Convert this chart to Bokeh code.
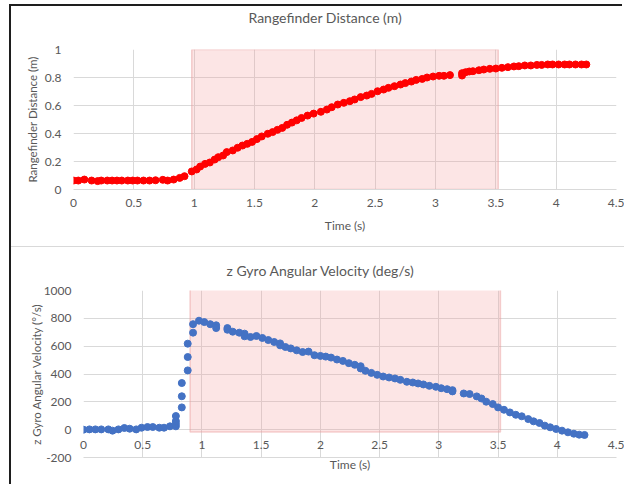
from bokeh.plotting import figure
from bokeh.models import (FixedTicker, NumeralTickFormatter, BoxAnnotation,
                          ColumnDataSource, Range1d, Title)
from bokeh.layouts import column
from bokeh.embed import file_html
from bokeh.resources import INLINE

# ---------------- data ----------------
range_time = [0.00, 0.04, 0.09, 0.15, 0.20, 0.23, 0.28, 0.32, 0.36, 0.40, 0.45, 0.49,
              0.53, 0.58, 0.63, 0.68, 0.74, 0.78, 0.83, 0.88, 0.92, 0.98, 1.02, 1.05,
              1.09, 1.13, 1.17, 1.20, 1.24, 1.27, 1.32, 1.36, 1.40, 1.44, 1.48, 1.52,
              1.56, 1.61, 1.65, 1.69, 1.73, 1.77, 1.81, 1.85, 1.89, 1.94, 1.99, 2.05,
              2.10, 2.14, 2.19, 2.24, 2.29, 2.33, 2.38, 2.43, 2.47, 2.52, 2.57, 2.61,
              2.66, 2.71, 2.75, 2.80, 2.84, 2.89, 2.93, 2.98, 3.03, 3.07, 3.12, 3.22,
              3.22, 3.25, 3.28, 3.31, 3.36, 3.40, 3.45, 3.50, 3.55, 3.60, 3.65, 3.69,
              3.74, 3.79, 3.84, 3.88, 3.93, 3.97, 4.02, 4.07, 4.11, 4.16, 4.21, 4.25]
range_dist = [0.064, 0.064, 0.071, 0.064, 0.060, 0.064, 0.064, 0.064, 0.064, 0.064, 0.064, 0.064,
              0.064, 0.064, 0.064, 0.066, 0.069, 0.064, 0.071, 0.083, 0.095, 0.129, 0.143, 0.164,
              0.183, 0.193, 0.214, 0.231, 0.243, 0.267, 0.279, 0.298, 0.314, 0.326, 0.340, 0.360,
              0.379, 0.398, 0.410, 0.426, 0.440, 0.462, 0.478, 0.494, 0.511, 0.528, 0.542, 0.555,
              0.571, 0.588, 0.607, 0.619, 0.631, 0.643, 0.660, 0.671, 0.683, 0.702, 0.714, 0.726,
              0.738, 0.750, 0.760, 0.771, 0.783, 0.790, 0.800, 0.807, 0.812, 0.812, 0.817, 0.814,
              0.831, 0.838, 0.843, 0.845, 0.852, 0.857, 0.862, 0.864, 0.869, 0.874, 0.879, 0.881,
              0.886, 0.886, 0.890, 0.890, 0.893, 0.893, 0.893, 0.893, 0.893, 0.893, 0.893, 0.893]

gyro_time = [0.00, 0.05, 0.10, 0.15, 0.21, 0.245, 0.295, 0.345, 0.39, 0.445, 0.49, 0.54,
             0.585, 0.64, 0.68, 0.73, 0.78, 0.78, 0.78, 0.78, 0.83, 0.83, 0.83, 0.88,
             0.88, 0.88, 0.925, 0.925, 0.975, 1.02, 1.07, 1.12, 1.12, 1.215, 1.215, 1.26,
             1.315, 1.36, 1.36, 1.41, 1.46, 1.51, 1.56, 1.61, 1.66, 1.66, 1.705, 1.75,
             1.80, 1.85, 1.90, 1.95, 2.00, 2.045, 2.09, 2.14, 2.19, 2.24, 2.29, 2.34,
             2.34, 2.38, 2.43, 2.48, 2.53, 2.58, 2.63, 2.675, 2.73, 2.78, 2.825, 2.87,
             2.92, 2.975, 3.02, 3.07, 3.115, 3.115, 3.21, 3.26, 3.32, 3.36, 3.40, 3.455,
             3.50, 3.55, 3.60, 3.65, 3.70, 3.755, 3.80, 3.85, 3.895, 3.94, 3.99, 4.04,
             4.09, 4.14, 4.185, 4.23]
gyro_vel = [0, 2, 2, 2, 2, -7, 2, 12, 7, 2, 14, 19,
            19, 14, 14, 24, 24, 43, 62, 98, 160, 240, 335, 426,
            522, 618, 697, 758, 783, 773, 758, 750, 730, 730, 718, 704,
            697, 690, 671, 666, 673, 659, 644, 630, 620, 606, 594, 584,
            570, 558, 561, 535, 530, 525, 518, 504, 494, 478, 466, 456,
            440, 423, 408, 394, 382, 375, 368, 358, 344, 339, 332, 325,
            315, 308, 298, 291, 284, 275, 260, 256, 239, 224, 201, 184,
            160, 143, 124, 107, 96, 76, 60, 48, 29, 17, 5, -7,
            -19, -29, -36, -38]

time_ticks = [0, 0.5, 1, 1.5, 2, 2.5, 3, 3.5, 4, 4.5]
dist_ticks = [0, 0.2, 0.4, 0.6, 0.8, 1]
vel_ticks = [-200, 0, 200, 400, 600, 800, 1000]

range_window = (0.98, 3.52)
gyro_window = (0.90, 3.52)

# ---------------- style ----------------
FONT = "Lato"
TXT = "#595959"
GRID = "#d9d9d9"
SHADE = "#f4a0a0"
W = 613


def make_title(text, offset, standoff):
    return Title(text=text, align="left", offset=offset, standoff=standoff,
                 text_font=FONT, text_font_size="14px", text_font_style="normal",
                 text_color=TXT)


def base_style(p):
    p.outline_line_color = None
    p.background_fill_color = "white"
    p.border_fill_color = "white"
    try:
        p.frame_align = False
    except Exception:
        pass
    for g in (p.xgrid, p.ygrid):
        g.grid_line_color = GRID
        g.grid_line_width = 1
    p.xgrid.ticker = FixedTicker(ticks=time_ticks)
    for ax in p.yaxis:
        ax.axis_line_color = None
        ax.major_tick_line_color = None
        ax.minor_tick_line_color = None
        ax.major_tick_out = 0
        ax.major_tick_in = 0
        ax.major_label_standoff = 12
        ax.major_label_text_font = FONT
        ax.major_label_text_font_size = "12px"
        ax.major_label_text_color = TXT
        ax.axis_label_text_font = FONT
        ax.axis_label_text_font_size = "11.5px"
        ax.axis_label_text_font_style = "normal"
        ax.axis_label_text_color = TXT
    for ax in p.xaxis:
        ax.ticker = FixedTicker(ticks=time_ticks)
        ax.formatter = NumeralTickFormatter(format="0.[0]")
        ax.axis_line_color = GRID
        ax.major_tick_line_color = None
        ax.minor_tick_line_color = None
        ax.major_tick_out = 0
        ax.major_tick_in = 0
        ax.major_label_text_font = FONT
        ax.major_label_text_font_size = "12px"
        ax.major_label_text_color = TXT
        ax.axis_label = "Time (s)"
        ax.axis_label_text_font = FONT
        ax.axis_label_text_font_size = "12px"
        ax.axis_label_text_font_style = "normal"
        ax.axis_label_text_color = TXT


# ---------------- top chart ----------------
p1 = figure(width=W, height=241, x_range=Range1d(0, 4.5), y_range=Range1d(0, 1),
            output_backend="svg", toolbar_location=None,
            min_border_left=62, min_border_right=8, min_border_top=43, min_border_bottom=58)
base_style(p1)
# spacer closest to the frame, then the chart title above it
p1.add_layout(Title(text=" ", text_font_size="1px", standoff=21), "above")
p1.add_layout(make_title("Rangefinder Distance (m)", 175, 0), "above")
p1.yaxis.ticker = FixedTicker(ticks=dist_ticks)
p1.yaxis.formatter = NumeralTickFormatter(format="0.[0]")
p1.ygrid.ticker = FixedTicker(ticks=dist_ticks)
p1.yaxis.axis_label = "Rangefinder Distance (m)"
p1.yaxis.axis_label_standoff = 3
p1.xaxis.major_label_standoff = 9
p1.xaxis.axis_label_standoff = 8

p1.add_layout(BoxAnnotation(left=range_window[0], right=range_window[1], bottom=0, top=1,
                            fill_color=SHADE, fill_alpha=0.28, line_color="#e89a9a",
                            line_alpha=0.45, line_width=1.5, level="underlay"))
src1 = ColumnDataSource(data=dict(t=range_time, d=range_dist))
p1.scatter("t", "d", source=src1, size=7, fill_color="#ff0000", line_color="#ff0000")

# ---------------- bottom chart ----------------
p2 = figure(width=W, height=239, x_range=Range1d(0, 4.5), y_range=Range1d(-200, 1000),
            output_backend="svg", toolbar_location=None,
            min_border_left=72, min_border_right=8, min_border_top=43, min_border_bottom=29)
base_style(p2)
p2.add_layout(make_title("z Gyro Angular Velocity (deg/s)", 143, 23), "above")
p2.yaxis.ticker = FixedTicker(ticks=vel_ticks)
p2.yaxis.formatter = NumeralTickFormatter(format="0")
p2.ygrid.ticker = FixedTicker(ticks=vel_ticks)
p2.yaxis.axis_label = "z Gyro Angular Velocity (°/s)"
p2.yaxis.axis_label_standoff = -2
# Excel puts the time labels just under the zero line: pull them up into the plot
p2.xaxis.major_label_standoff = -17
p2.xaxis.axis_label_standoff = 5
p2.styles = {"box-shadow": "0 -1px 0 0 #d9d9d9"}

p2.add_layout(BoxAnnotation(left=gyro_window[0], right=gyro_window[1], bottom=-17, top=1040,
                            fill_color=SHADE, fill_alpha=0.28, line_color="#e89a9a",
                            line_alpha=0.45, line_width=1.5, level="underlay"))
src2 = ColumnDataSource(data=dict(t=gyro_time, v=gyro_vel))
p2.scatter("t", "v", source=src2, size=7, fill_color="#4472c4", line_color="#4472c4")

layout = column(p1, p2, spacing=0,
                styles={"margin-left": "11px", "margin-top": "6px",
                        "box-shadow": "-2px -2px 0 0 #1e1e1e"})

open("out.html", "w").write(file_html(layout, INLINE))
